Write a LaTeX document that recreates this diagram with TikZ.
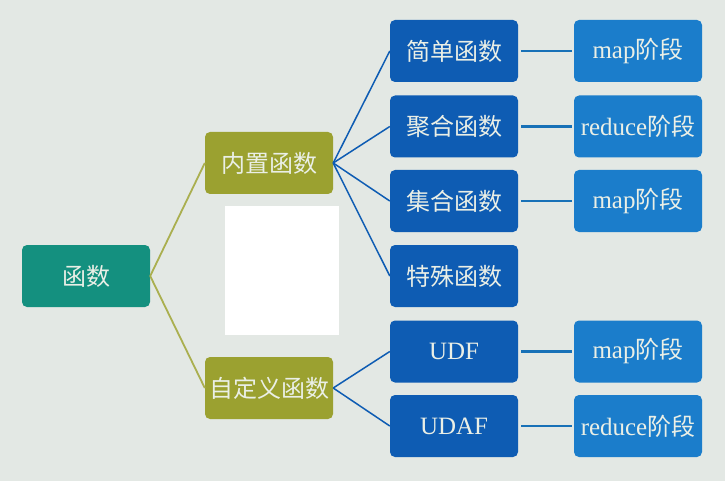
\documentclass[tikz,border=0pt]{standalone}
\usepackage{fontspec}
\setmainfont{Liberation Serif}[Scale=1.04]
\newfontfamily\cjk{Noto Sans CJK SC}
\definecolor{bgc}{HTML}{E3E8E4}
\definecolor{rootc}{HTML}{14907F}
\definecolor{olivec}{HTML}{9BA130}
\definecolor{darkbc}{HTML}{0E5CB3}
\definecolor{lightbc}{HTML}{1B7DCB}
\definecolor{txtc}{HTML}{EAEFE6}
\begin{document}
\begin{tikzpicture}[x=1pt,y=-1pt,
box/.style={rounded corners=5pt,minimum width=128pt,minimum height=62pt,inner sep=0pt,text=txtc,font=\fontsize{24}{24}\selectfont},
oline/.style={draw=olivec!85!white,line width=1.8pt},
bline/.style={draw=darkbc,line width=1.5pt},
hline/.style={draw=lightbc!90!black,line width=2.6pt,shorten <=3pt,shorten >=2pt}]
\pgfmathsetmacro{\xa}{86}
\pgfmathsetmacro{\xb}{269}
\pgfmathsetmacro{\xc}{454}
\pgfmathsetmacro{\xd}{638}
\fill[bgc](0,0)rectangle(725,481);
\node[box,fill=rootc](hs)at(\xa,276){\cjk 函数};
\node[box,fill=olivec](nz)at(\xb,163){\cjk 内置函数};
\node[box,fill=olivec](zdy)at(\xb,388){\cjk 自定义函数};
\node[box,fill=darkbc](jd)at(\xc,51){\cjk 简单函数};
\node[box,fill=darkbc](jh)at(\xc,126.5){\cjk 聚合函数};
\node[box,fill=darkbc](jih)at(\xc,201){\cjk 集合函数};
\node[box,fill=darkbc](ts)at(\xc,276){\cjk 特殊函数};
\node[box,fill=darkbc](udf)at(\xc,351.5){UDF};
\node[box,fill=darkbc](udaf)at(\xc,426){UDAF};
\node[box,fill=lightbc](m1)at(\xd,51){map{\cjk 阶段}};
\node[box,fill=lightbc](r1)at(\xd,126.5){reduce{\cjk 阶段}};
\node[box,fill=lightbc](m2)at(\xd,201){map{\cjk 阶段}};
\node[box,fill=lightbc](m3)at(\xd,351.5){map{\cjk 阶段}};
\node[box,fill=lightbc](r2)at(\xd,426){reduce{\cjk 阶段}};
\draw[oline](hs.east)--(nz.west);
\draw[oline](hs.east)--(zdy.west);
\draw[bline](nz.east)--(jd.west);
\draw[bline](nz.east)--(jh.west);
\draw[bline](nz.east)--(jih.west);
\draw[bline](nz.east)--(ts.west);
\draw[bline](zdy.east)--(udf.west);
\draw[bline](zdy.east)--(udaf.west);
\draw[hline](jd)--(m1);
\draw[hline](jh)--(r1);
\draw[hline](jih)--(m2);
\draw[hline](udf)--(m3);
\draw[hline](udaf)--(r2);
% white patch
\fill[white](225,206)rectangle(339,335);
\end{tikzpicture}
\end{document}
